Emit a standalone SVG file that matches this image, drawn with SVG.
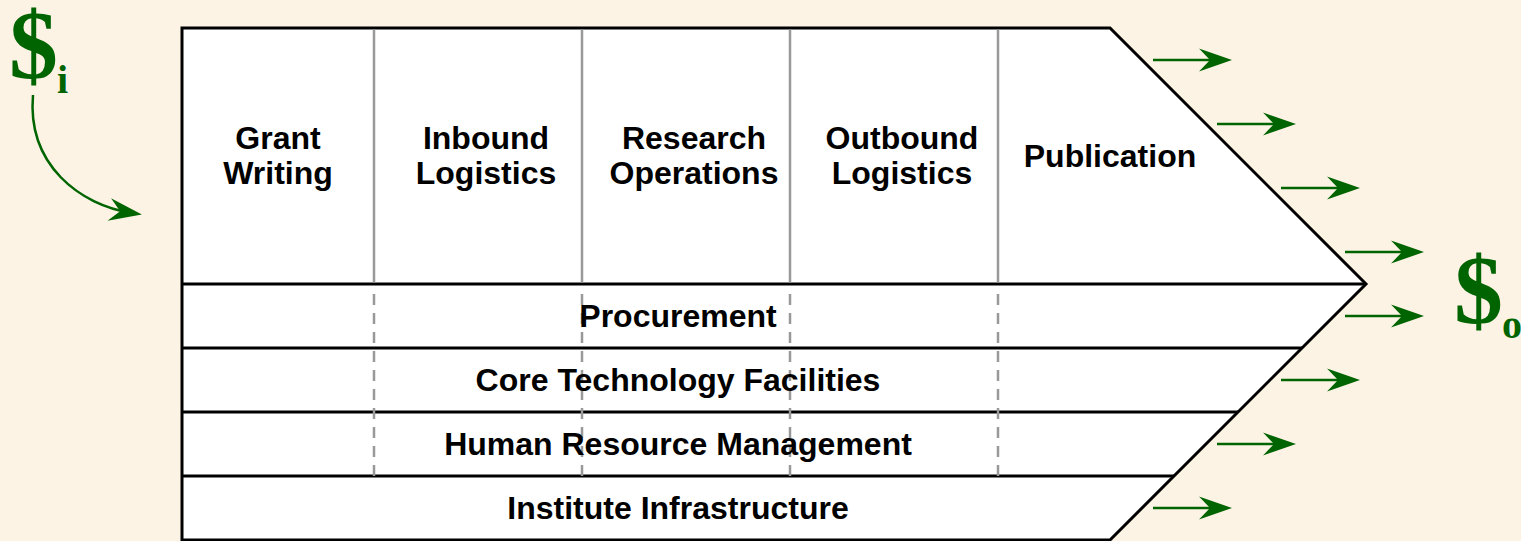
<svg xmlns="http://www.w3.org/2000/svg" width="1521" height="541" viewBox="0 0 1521 541">
<style>
.lbl{font-family:"Liberation Sans",Arial,sans-serif;font-weight:bold;font-size:32px;fill:#000;text-anchor:middle}
.edge{stroke:#000;stroke-width:3;fill:none}
.div{stroke:#999;stroke-width:2.5;fill:none}
.dash{stroke:#999;stroke-width:2.5;fill:none;stroke-dasharray:11 8}
.arr{stroke:#006400;stroke-width:2.5;fill:none;marker-end:url(#ah)}
.dol{font-family:"Liberation Serif","Times New Roman",serif;font-weight:bold;fill:#006400}
</style>
<defs>
<marker id="ah" markerUnits="userSpaceOnUse" viewBox="-35 -14 40 28" markerWidth="40" markerHeight="28" refX="-10" refY="0" orient="auto">
<path d="M0,0 L-33,-11.5 L-22,0 L-33,11.5 Z" fill="#006400"/>
</marker>
</defs>
<rect x="0" y="0" width="1521" height="541" fill="#fdf3e4"/>
<g id="chain">
<polygon points="182,28 1110,28 1366,284 1110,540 182,540" fill="#fff" stroke="#000" stroke-width="3"/>
<line class="edge" x1="182" y1="284" x2="1366" y2="284"/>
<line class="edge" x1="182" y1="348" x2="1302" y2="348"/>
<line class="edge" x1="182" y1="412" x2="1238" y2="412"/>
<line class="edge" x1="182" y1="476" x2="1174" y2="476"/>
<line class="div" x1="374" y1="29.5" x2="374" y2="282.5"/>
<line class="div" x1="582" y1="29.5" x2="582" y2="282.5"/>
<line class="div" x1="790" y1="29.5" x2="790" y2="282.5"/>
<line class="div" x1="998" y1="29.5" x2="998" y2="282.5"/>
<line class="dash" x1="374" y1="294" x2="374" y2="476"/>
<line class="dash" x1="582" y1="294" x2="582" y2="476"/>
<line class="dash" x1="790" y1="294" x2="790" y2="476"/>
<line class="dash" x1="998" y1="294" x2="998" y2="476"/>
</g>
<g id="grant-writing"><text class="lbl" x="278" y="149">Grant</text><text class="lbl" x="278" y="184">Writing</text></g>
<g id="inbound-logistics"><text class="lbl" x="486" y="149">Inbound</text><text class="lbl" x="486" y="184">Logistics</text></g>
<g id="research-operations"><text class="lbl" x="694" y="149">Research</text><text class="lbl" x="694" y="184">Operations</text></g>
<g id="outbound-logistics"><text class="lbl" x="902" y="149">Outbound</text><text class="lbl" x="902" y="184">Logistics</text></g>
<g id="publication"><text class="lbl" x="1110" y="167">Publication</text></g>
<g id="procurement"><text class="lbl" x="678" y="327">Procurement</text></g>
<g id="core-technology"><text class="lbl" x="678" y="391">Core Technology Facilities</text></g>
<g id="human-resource"><text class="lbl" x="678" y="455">Human Resource Management</text></g>
<g id="infrastructure"><text class="lbl" x="678" y="519">Institute Infrastructure</text></g>
<g id="money-in"><text class="dol" x="9" y="78" font-size="98">$</text><text class="dol" x="57" y="93" font-size="40">i</text></g>
<g id="money-out"><text class="dol" x="1454" y="323" font-size="98">$</text><text class="dol" x="1502" y="338" font-size="40">o</text></g>
<g id="connectors">
<path class="arr" d="M33,95 C27,165 80,205 132,213"/>
<line class="arr" x1="1153" y1="60" x2="1222" y2="60"/>
<line class="arr" x1="1217" y1="124" x2="1286" y2="124"/>
<line class="arr" x1="1281" y1="188" x2="1350" y2="188"/>
<line class="arr" x1="1345" y1="252" x2="1414" y2="252"/>
<line class="arr" x1="1345" y1="316" x2="1414" y2="316"/>
<line class="arr" x1="1281" y1="380" x2="1350" y2="380"/>
<line class="arr" x1="1217" y1="444" x2="1286" y2="444"/>
<line class="arr" x1="1153" y1="508" x2="1222" y2="508"/>
</g>
</svg>
